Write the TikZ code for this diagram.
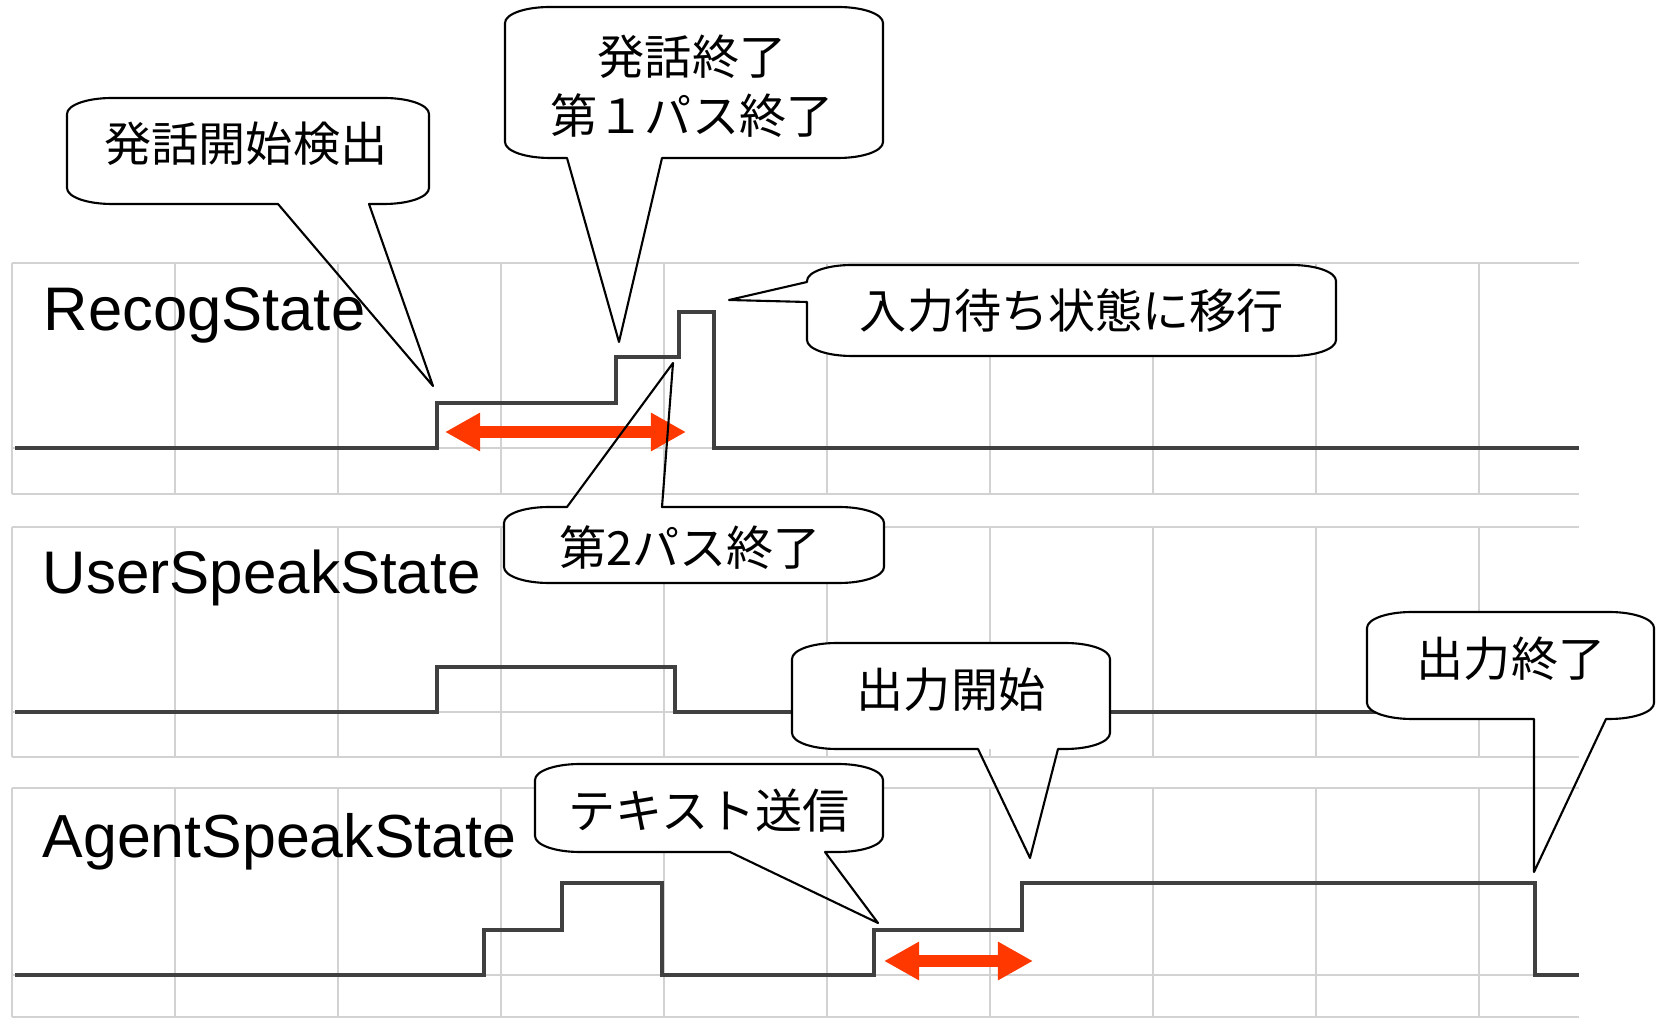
\documentclass[tikz,border=0pt]{standalone}
\usepackage{fontspec}
\setmainfont{Liberation Sans}
\newfontfamily\cjk{Noto Sans CJK JP}
\usetikzlibrary{arrows.meta}
\definecolor{spanred}{RGB}{255,56,0}

% speech bubble: box set by \bubbleat{left}{top}{right}{bottom}, elliptic corners
\newcommand\bubbleat[4]{\def\bxl{#1}\def\bxt{#2}\def\bxr{#3}\def\bxb{#4}}
\newcommand\bubNW{-- (\bxl,\bxt+16) .. controls (\bxl,\bxt+7) and (\bxl+20,\bxt) .. (\bxl+45,\bxt)}
\newcommand\bubNE{-- (\bxr-45,\bxt) .. controls (\bxr-20,\bxt) and (\bxr,\bxt+7) .. (\bxr,\bxt+16)}
\newcommand\bubSE{-- (\bxr,\bxb-16) .. controls (\bxr,\bxb-7) and (\bxr-20,\bxb) .. (\bxr-45,\bxb)}
\newcommand\bubSW{-- (\bxl+45,\bxb) .. controls (\bxl+20,\bxb) and (\bxl,\bxb-7) .. (\bxl,\bxb-16)}
\newcommand\bubbody{\fill[white] (\bxl,\bxt+16) \bubNW \bubNE \bubSE \bubSW -- cycle;}

\begin{document}
\begin{tikzpicture}[
        x=0.01cm, y=-0.01cm,
        gridline/.style={draw=gray!35, line width=0.7pt},
        wave/.style={draw=black!75, line width=1.1pt},
        interval/.style={draw=spanred, line width=3.4pt, {Triangle[length=3.5mm, width=3.6mm]}-{Triangle[length=3.5mm, width=3.6mm]}},
        bubble/.style={draw, line width=0.6pt, line join=round},
        statename/.style={anchor=base west, inner sep=0pt, font=\fontsize{17.3}{20}\selectfont},
        bubbletext/.style={inner sep=0pt, align=center, font=\cjk\fontsize{13.4}{16.7}\selectfont},
    ]
    \useasboundingbox (0,0) rectangle (1660,1019);

    % Grid of the three panels
    \foreach \top/\base/\bot in {263/448/494, 527/712/757, 788/975/1017} {
        \draw[gridline] (12,\top) -- (1579,\top) (12,\base) -- (1579,\base) (12,\bot) -- (1579,\bot);
        \foreach \x in {12,175,...,1479} \draw[gridline] (\x,\top) -- (\x,\bot);
    }

    % State names
    \node[statename, font=\fontsize{17.5}{20}\selectfont] (recog) at (43,331) {RecogState};
    \node[statename, font=\fontsize{17.1}{20}\selectfont] (user) at (42,594) {UserSpeakState};
    \node[statename] (agent) at (42,858) {AgentSpeakState};

    % Signals
    \draw[wave] (15,448) -- (437,448) -- (437,403) -- (616,403) -- (616,357) -- (679,357)
        -- (679,312) -- (714,312) -- (714,448) -- (1579,448);
    \draw[wave] (15,712) -- (437,712) -- (437,667) -- (675,667) -- (675,712) -- (1579,712);
    \draw[wave] (15,975) -- (484,975) -- (484,930) -- (562,930) -- (562,883) -- (662,883)
        -- (662,975) -- (874,975) -- (874,930) -- (1022,930) -- (1022,883) -- (1535,883)
        -- (1535,975) -- (1579,975);

    % Intervals
    \coordinate (recoga) at (445,432);
    \coordinate (recogb) at (686,432);
    \coordinate (agenta) at (884,961);
    \coordinate (agentb) at (1033,961);
    \draw[interval] (recoga) -- (recogb);
    \draw[interval] (agenta) -- (agentb);

    % Points the bubbles point at
    \coordinate (detect) at (433,386);
    \coordinate (pass1) at (619,342);
    \coordinate (idle) at (729,300);
    \coordinate (pass2) at (673,363);
    \coordinate (send) at (878,923);
    \coordinate (outstart) at (1030,858);
    \coordinate (outend) at (1534,872);

    % Bubbles
    \bubbleat{67}{98}{429}{204}\bubbody
    \draw[bubble] (detect) -- (278,\bxb) \bubSW \bubNW \bubNE \bubSE -- (369,\bxb) -- cycle;
    \node[bubbletext] (detecttext) at (246,144) {発話開始検出};

    \bubbleat{505}{7}{883}{158}\bubbody
    \draw[bubble] (pass1) -- (567,\bxb) \bubSW \bubNW \bubNE \bubSE -- (662,\bxb) -- cycle;
    \node[bubbletext] (pass1text) at (692,86) {発話終了\\第１パス終了};

    \bubbleat{807}{265}{1336}{356}\bubbody
    \draw[bubble] (idle) -- (\bxl,\bxt+17) \bubNW \bubNE \bubSE \bubSW -- (\bxl,302) -- cycle;
    \node[bubbletext] (idletext) at (1072,311) {入力待ち状態に移行};

    \bubbleat{504}{507}{884}{583}\bubbody
    \draw[bubble] (pass2) -- (662,\bxt) \bubNE \bubSE \bubSW \bubNW -- (567,\bxt) -- cycle;
    \node[bubbletext] (pass2text) at (690,548) {第2パス終了};

    \bubbleat{535}{764}{883}{852}\bubbody
    \draw[bubble] (send) -- (730,\bxb) \bubSW \bubNW \bubNE \bubSE -- (825,\bxb) -- cycle;
    \node[bubbletext] (sendtext) at (709,811) {テキスト送信};

    \bubbleat{792}{643}{1110}{749}\bubbody
    \draw[bubble] (outstart) -- (978,\bxb) \bubSW \bubNW \bubNE \bubSE -- (1058,\bxb) -- cycle;
    \node[bubbletext] (outstarttext) at (951,690) {出力開始};

    \bubbleat{1367}{612}{1654}{719}\bubbody
    \draw[bubble] (outend) -- (1534,\bxb) \bubSW \bubNW \bubNE \bubSE -- (1606,\bxb) -- cycle;
    \node[bubbletext] (outendtext) at (1511,659) {出力終了};

\end{tikzpicture}
\end{document}
